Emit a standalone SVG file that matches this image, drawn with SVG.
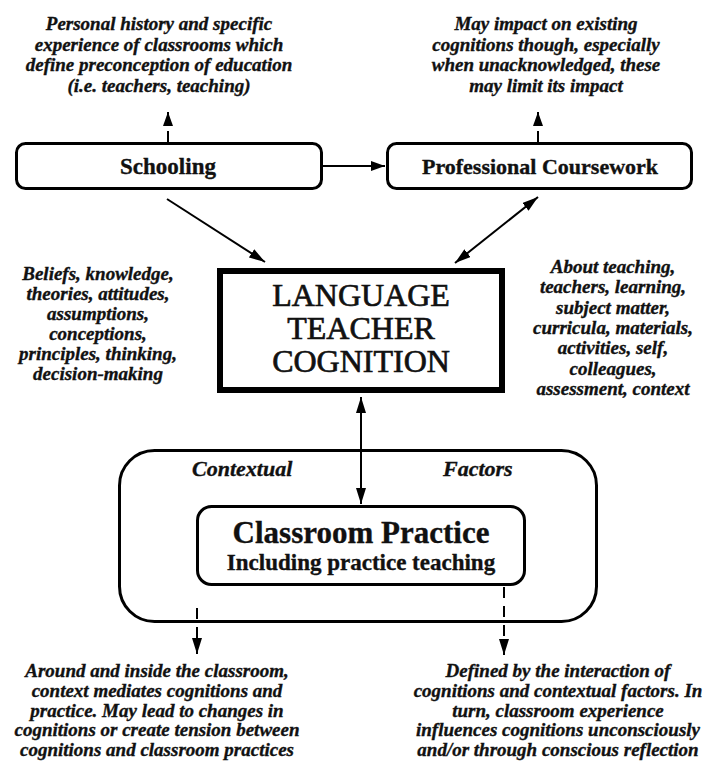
<svg xmlns="http://www.w3.org/2000/svg" width="707" height="763" viewBox="0 0 707 763">
<defs>
<style>
.box{fill:#fff;stroke:#000;stroke-width:3}
.ltc{fill:#fff;stroke:#000;stroke-width:6}
text{font-family:'Liberation Serif','Tinos','Times New Roman','DejaVu Serif',serif}
.t{fill:#111;text-anchor:middle;stroke:#111;stroke-width:0.35}
.bi{font-weight:bold;font-style:italic;font-size:19px}
.b{font-weight:bold}
.ltct{stroke-width:0.7}
.ln{stroke:#000;stroke-width:2;fill:none}
.ds{stroke:#000;stroke-width:2;fill:none;stroke-dasharray:11,8}
</style>
<marker id="ah" markerUnits="userSpaceOnUse" markerWidth="14" markerHeight="12" refX="14" refY="5" orient="auto-start-reverse" viewBox="0 0 14 10">
<path d="M0,0 L14,5 L0,10 z" fill="#000"/>
</marker>
<marker id="ah2" markerUnits="userSpaceOnUse" markerWidth="16" markerHeight="10" refX="16" refY="5" orient="auto-start-reverse" viewBox="0 0 16 10">
<path d="M0,0 L16,5 L0,10 z" fill="#000"/>
</marker>
</defs>
<rect width="707" height="763" fill="#fff"/>

<g id="note-schooling">
<text class="t bi" x="159" y="30">Personal history and specific</text>
<text class="t bi" x="159" y="50.5">experience of classrooms which</text>
<text class="t bi" x="159" y="71">define preconception of education</text>
<text class="t bi" x="159" y="91.5">(i.e. teachers, teaching)</text>
</g>
<g id="note-coursework">
<text class="t bi" x="546" y="30">May impact on existing</text>
<text class="t bi" x="546" y="50.5">cognitions though, especially</text>
<text class="t bi" x="546" y="71">when unacknowledged, these</text>
<text class="t bi" x="546" y="91.5">may limit its impact</text>
</g>

<g id="schooling">
<rect class="box" x="16.5" y="143.5" width="305" height="45" rx="9"/>
<text class="t b" x="168" y="174" font-size="23">Schooling</text>
</g>
<g id="coursework">
<rect class="box" x="387.5" y="143.5" width="304" height="45" rx="9"/>
<text class="t b" x="540" y="174" font-size="22">Professional Coursework</text>
</g>

<g id="note-beliefs">
<text class="t bi" x="98" y="280">Beliefs, knowledge,</text>
<text class="t bi" x="98" y="300">theories, attitudes,</text>
<text class="t bi" x="98" y="320">assumptions,</text>
<text class="t bi" x="98" y="340">conceptions,</text>
<text class="t bi" x="98" y="360">principles, thinking,</text>
<text class="t bi" x="98" y="380">decision-making</text>
</g>
<g id="note-about">
<text class="t bi" x="613" y="273">About teaching,</text>
<text class="t bi" x="613" y="293">teachers, learning,</text>
<text class="t bi" x="613" y="313.5">subject matter,</text>
<text class="t bi" x="613" y="334">curricula, materials,</text>
<text class="t bi" x="613" y="354">activities, self,</text>
<text class="t bi" x="613" y="374.5">colleagues,</text>
<text class="t bi" x="613" y="395">assessment, context</text>
</g>

<g id="ltc">
<rect class="ltc" x="220" y="271" width="282" height="119"/>
<text class="t ltct" x="361" y="306" font-size="32">LANGUAGE</text>
<text class="t ltct" x="361" y="339" font-size="32">TEACHER</text>
<text class="t ltct" x="361" y="372" font-size="32">COGNITION</text>
</g>

<g id="contextual-factors">
<rect class="box" x="119.5" y="450.5" width="477" height="171" rx="35"/>
<text class="t bi" x="192" y="476" style="text-anchor:start;font-size:22px">Contextual</text>
<text class="t bi" x="443" y="476" style="text-anchor:start;font-size:22px">Factors</text>
</g>

<g id="classroom-practice">
<rect class="box" x="197.5" y="506.5" width="327" height="78" rx="14"/>
<text class="t b" x="361" y="543" font-size="31">Classroom Practice</text>
<text class="t b" x="361" y="570" font-size="23">Including practice teaching</text>
</g>

<g id="note-context">
<text class="t bi" x="157" y="677">Around and inside the classroom,</text>
<text class="t bi" x="157" y="697">context mediates cognitions and</text>
<text class="t bi" x="157" y="716.5">practice. May lead to changes in</text>
<text class="t bi" x="157" y="736">cognitions or create tension between</text>
<text class="t bi" x="157" y="755.5">cognitions and classroom practices</text>
</g>
<g id="note-practice">
<text class="t bi" x="558" y="677">Defined by the interaction of</text>
<text class="t bi" x="558" y="697">cognitions and contextual factors. In</text>
<text class="t bi" x="558" y="716.5">turn, classroom experience</text>
<text class="t bi" x="558" y="736">influences cognitions unconsciously</text>
<text class="t bi" x="558" y="755.5">and/or through conscious reflection</text>
</g>

<g id="connectors">
<line class="ds" x1="168" y1="142" x2="168" y2="112" stroke-dasharray="10,10" marker-end="url(#ah)"/>
<line class="ds" x1="538" y1="142" x2="538" y2="112" stroke-dasharray="10,10" marker-end="url(#ah)"/>
<line class="ln" x1="323" y1="166" x2="385" y2="166" marker-end="url(#ah)"/>
<line class="ln" x1="167" y1="199" x2="265" y2="262" marker-end="url(#ah2)"/>
<line class="ln" x1="455" y1="263" x2="538" y2="197" marker-start="url(#ah2)" marker-end="url(#ah2)"/>
<line class="ln" x1="361" y1="397" x2="361" y2="504" marker-start="url(#ah2)" marker-end="url(#ah2)"/>
<line class="ds" x1="197" y1="608" x2="197" y2="654" marker-end="url(#ah2)"/>
<line class="ds" x1="504" y1="587" x2="504" y2="655" marker-end="url(#ah2)"/>
</g>
</svg>
